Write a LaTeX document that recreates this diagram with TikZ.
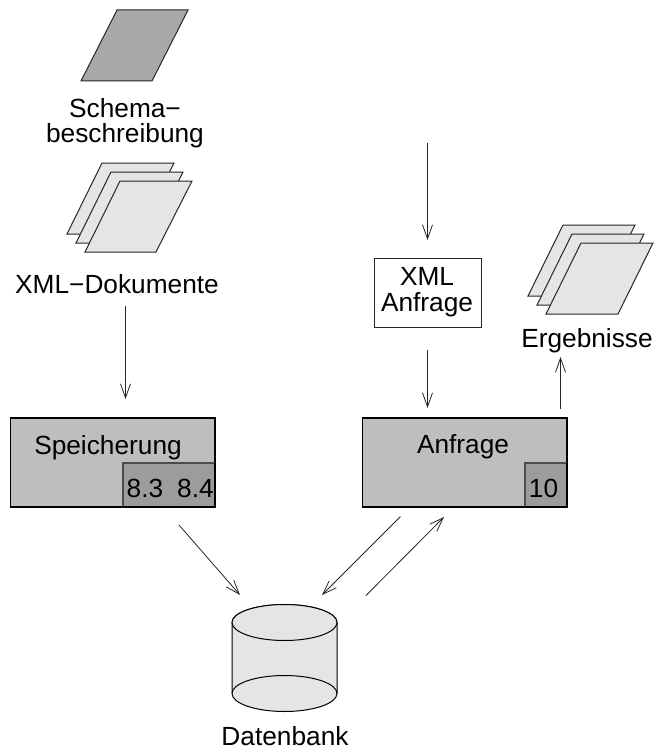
\documentclass[tikz,border=0pt]{standalone}
\usepackage{fontspec}
\setmainfont{Liberation Sans}
\usetikzlibrary{arrows.meta}
\definecolor{darkfill}{HTML}{A8A8A8}
\definecolor{midfill}{HTML}{BEBEBE}
\definecolor{subfill}{HTML}{9C9C9C}
\definecolor{lightfill}{HTML}{E5E5E5}
\tikzset{
  x=0.75pt,y=-0.75pt,
  lbl/.style={font=\fontsize{19.7}{18.75}\selectfont,inner sep=0pt,outer sep=0pt,align=center,text=black},
  sheet/.style={draw=black!85,line width=0.75pt,line join=miter,fill=lightfill},
  schema/.style={draw=black!85,line width=0.75pt,fill=darkfill},
  mainbox/.style={draw=black,line width=0.9pt,fill=midfill},
  subedge/.style={draw=black!70,line width=0.9pt},
  outeredge/.style={draw=black,line width=0.9pt},
  flow/.style={draw=black!85,line width=0.6pt,-{Straight Barb[length=10.5pt,width=7.5pt,line width=0.6pt]}},
}
\begin{document}
\begin{tikzpicture}
\useasboundingbox (0,0) rectangle (653,749);
% schema sheet
\draw[schema] (117,10) -- (188,10) -- (152,81) -- (81,81) -- cycle;
\node[lbl,anchor=base] (schemaA) at (125,117) {Schema−};
\node[lbl,anchor=base] (schemaB) at (125,142) {beschreibung};
% document stack
\foreach \d in {0,9,18}{
  \draw[sheet,shift={(\d,\d)}] (102,163) -- (174,163) -- (138,234) -- (67,234) -- cycle;
}
\node[lbl,anchor=base] (docs) at (117,293) {XML−Dokumente};
% query box
\node[draw=black!85,line width=0.75pt,fill=white,minimum width=80.25pt,minimum height=51.75pt,inner sep=0pt] (query) at (427.5,292.5) {};
\node[lbl,anchor=base] (queryA) at (427,285) {XML};
\node[lbl,anchor=base] (queryB) at (427,311) {Anfrage};
% result stack
\foreach \d in {0,9,18}{
  \draw[sheet,shift={(\d,\d)}] (563,225) -- (635,225) -- (600,296) -- (528,296) -- cycle;
}
\node[lbl,anchor=base] (results) at (587,347) {Ergebnisse};
% storage
\node[mainbox,minimum width=153.4pt,minimum height=66.75pt,inner sep=0pt] (store) at (112.75,462.5) {};
\path[fill=subfill] (123.5,463.5) rectangle (214.5,506.5);
\draw[subedge] (123,507) -- (123,463) -- (215,463);
\draw[outeredge] (123,507) -- (215,507) -- (215,463);
\node[lbl,anchor=base] (storeT) at (108,454) {Speicherung};
\node[lbl,anchor=base] (s83) at (145,497) {8.3};
\node[lbl,anchor=base] (s84) at (195.5,497) {8.4};
% request
\node[mainbox,minimum width=153.4pt,minimum height=66.75pt,inner sep=0pt] (req) at (464.75,462.5) {};
\path[fill=subfill] (525.5,463.5) rectangle (566.5,506.5);
\draw[subedge] (525,507) -- (525,463) -- (567,463);
\draw[outeredge] (525,507) -- (567,507) -- (567,463);
\node[lbl,anchor=base] (reqT) at (463,453) {Anfrage};
\node[lbl,anchor=base] (ten) at (543.5,497) {10};
% database
\draw[draw=black,line width=0.75pt,fill=lightfill]
  (232,622.5) -- (232,693.5) arc[start angle=180,end angle=360,x radius=52.5,y radius=-18] -- (337,622.5) arc[start angle=0,end angle=180,x radius=52.5,y radius=-18] -- cycle;
\draw[draw=black,line width=0.75pt,fill=lightfill] (284.5,622.5) ellipse[x radius=52.5,y radius=18];
\draw[draw=black,line width=0.75pt] (232,693.5) arc[start angle=180,end angle=360,x radius=52.5,y radius=18];
\node[lbl,anchor=base] (db) at (285,745) {Datenbank};
% arrow ends
\coordinate (a1) at (125.5,306); \coordinate (a2) at (125.5,399);
\coordinate (b1) at (427.5,143); \coordinate (b2) at (427.5,240);
\coordinate (c1) at (427.5,350); \coordinate (c2) at (427.5,408);
\coordinate (d1) at (560.5,409); \coordinate (d2) at (560.5,357);
\coordinate (e1) at (179,525); \coordinate (e2) at (240,595);
\coordinate (f1) at (400.5,516.5); \coordinate (f2) at (322,595);
\coordinate (g1) at (366,595.5); \coordinate (g2) at (444,517);
\foreach \p/\q in {a1/a2,b1/b2,c1/c2,d1/d2,e1/e2,f1/f2,g1/g2}{\draw[flow] (\p) -- (\q);}
\end{tikzpicture}
\end{document}
